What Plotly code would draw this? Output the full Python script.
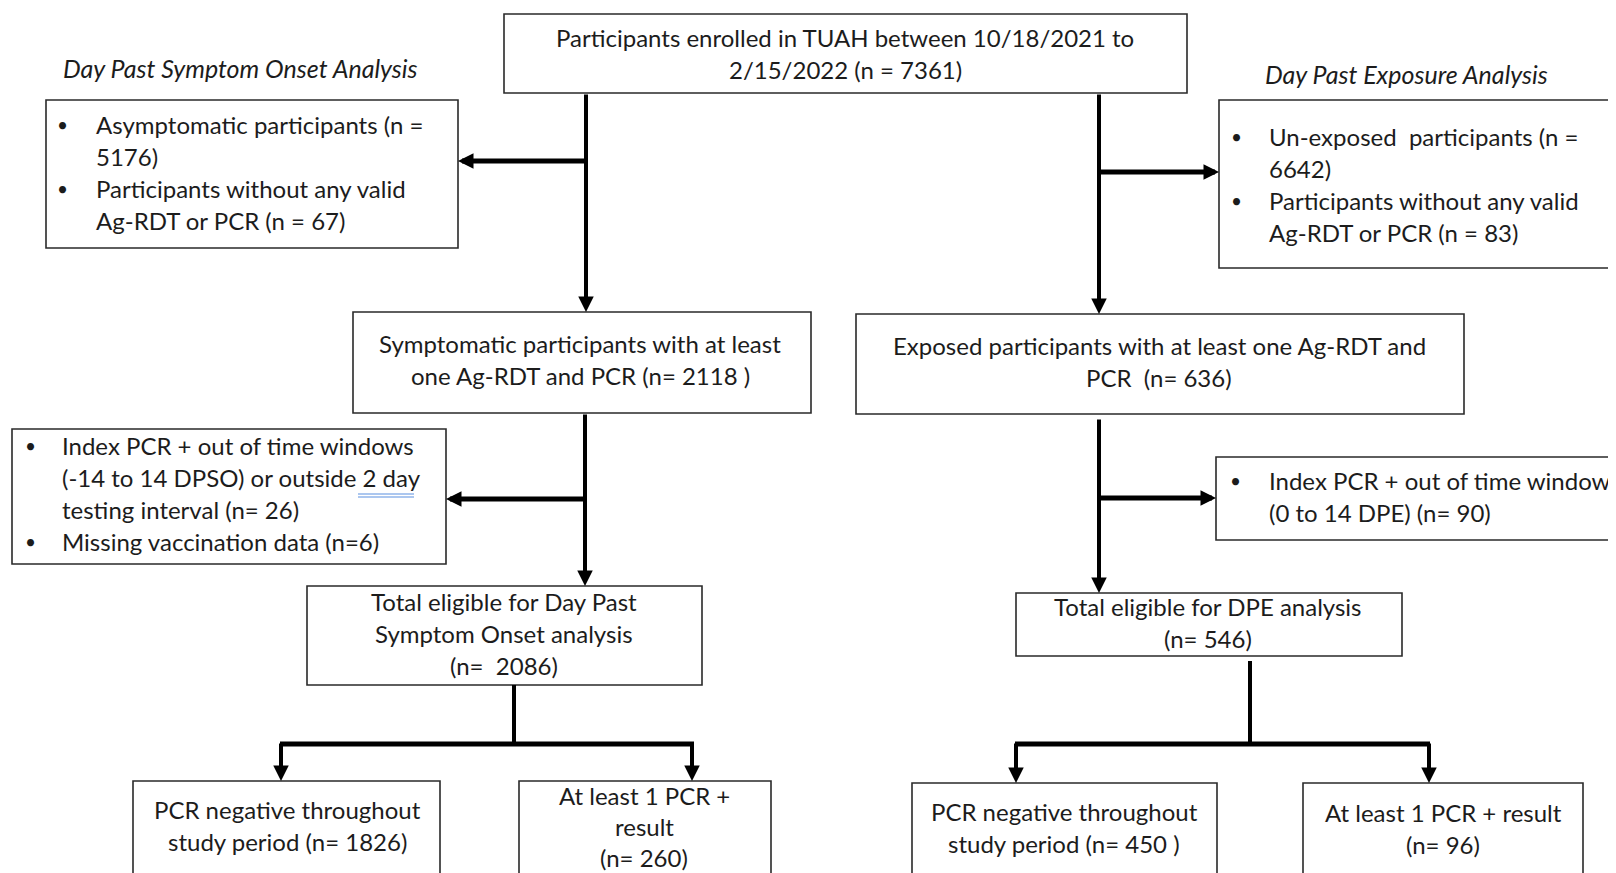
"""TUAH enrolment flow diagram (DPSO / DPE analyses) drawn with Plotly shapes."""

import plotly.graph_objects as go

W, H = 1616, 873
PAGE_PAD = 8  # default <body> margin of the written page
FONT = "Lato, 'Open Sans', sans-serif"
FONT_SIZE = 24
TITLE_SIZE = 25
INK = "#1c1c1c"
EDGE = "#2a2a2a"
LINE_STEP = 32
TEXT_NUDGE = -2  # lift text a little so it sits like the source

# ---- box texts (line breaks follow the source figure) ----
enrolled_lines = ["Participants enrolled in TUAH between 10/18/2021 to", "2/15/2022 (n = 7361)"]
dpso_title = "Day Past Symptom Onset Analysis"
dpe_title = "Day Past Exposure Analysis"
dpso_excl_1 = [["Asymptomatic participants (n =", "5176)"],
               ["Participants without any valid", "Ag-RDT or PCR (n = 67)"]]
dpe_excl_1 = [["Un-exposed\u00a0 participants (n =", "6642)"],
              ["Participants without any valid", "Ag-RDT or PCR (n = 83)"]]
symptomatic_lines = ["Symptomatic participants with at least", "one Ag-RDT and PCR (n= 2118 )"]
exposed_lines = ["Exposed participants with at least one Ag-RDT and", "PCR\u00a0 (n= 636)"]
dpso_excl_2 = [["Index PCR + out of time windows", "(-14 to 14 DPSO) or outside 2 day", "testing interval (n= 26)"],
               ["Missing vaccination data (n=6)"]]
dpe_excl_2 = [["Index PCR + out of time window", "(0 to 14 DPE) (n= 90)"]]
dpso_total = ["Total eligible for Day Past", "Symptom Onset analysis", "(n=\u00a0 2086)"]
dpe_total = ["Total eligible for DPE analysis", "(n= 546)"]
dpso_neg = ["PCR negative throughout", "study period (n= 1826)"]
dpso_pos = ["At least 1 PCR +", "result", "(n= 260)"]
dpe_neg = ["PCR negative throughout", "study period (n= 450 )"]
dpe_pos = ["At least 1 PCR + result", "(n= 96)"]

# ---- layout (pixel coordinates, y downwards) ----
BOXES = {
    "top": (504, 14, 1187, 93),
    "dpso_excl_1": (46, 100, 458, 248),
    "dpe_excl_1": (1219, 100, 1630, 268),
    "symptomatic": (353, 312, 811, 413),
    "exposed": (856, 314, 1464, 414),
    "dpso_excl_2": (12, 429, 446, 564),
    "dpe_excl_2": (1216, 457, 1630, 540),
    "dpso_total": (307, 586, 702, 685),
    "dpe_total": (1016, 593, 1402, 656),
    "dpso_neg": (133, 781, 440, 890),
    "dpso_pos": (519, 781, 771, 890),
    "dpe_neg": (912, 783, 1217, 890),
    "dpe_pos": (1303, 783, 1583, 890),
}

fig = go.Figure()


def text_block(lines, x, y0, anchor="center", italic=False, step=LINE_STEP):
    for i, s in enumerate(lines):
        size = TITLE_SIZE if italic else FONT_SIZE
        if italic:
            s = f"<i>{s}</i>"
        fig.add_annotation(
            x=x, y=y0 + i * step + TEXT_NUDGE, text=s, showarrow=False,
            xanchor=anchor, yanchor="middle",
            font=dict(family=FONT, size=size, color=INK),
        )


def bullet_block(items, x_bullet, x_text, y0, step=LINE_STEP):
    row = 0
    for item in items:
        fig.add_annotation(
            x=x_bullet, y=y0 + row * step + TEXT_NUDGE, text="•", showarrow=False,
            xanchor="center", yanchor="middle",
            font=dict(family=FONT, size=FONT_SIZE - 5, color=INK),
        )
        text_block(item, x_text, y0 + row * step, anchor="left", step=step)
        row += len(item)


def connector(x0, y0, x1, y1, width=4):
    fig.add_shape(type="line", x0=x0, y0=y0, x1=x1, y1=y1,
                  line=dict(color="black", width=width))


def arrow(x_tail, y_tail, x_tip, y_tip, width=4):
    fig.add_annotation(
        x=x_tip, y=y_tip, ax=x_tail, ay=y_tail, xref="x", yref="y",
        axref="x", ayref="y", text="", showarrow=True,
        arrowhead=2, arrowsize=3.1 / width, arrowwidth=width, arrowcolor="black",
        standoff=0,
    )


for (x0, y0, x1, y1) in BOXES.values():
    fig.add_shape(type="rect", x0=x0, y0=y0, x1=x1, y1=y1,
                  line=dict(color=EDGE, width=1.6), fillcolor="rgba(0,0,0,0)")

# texts
text_block(enrolled_lines, 845, 39)
text_block([dpso_title], 240, 70, italic=True)
text_block([dpe_title], 1406, 76, italic=True)
bullet_block(dpso_excl_1, 62, 94, 126)
bullet_block(dpe_excl_1, 1236, 1267, 138)
text_block(symptomatic_lines, 580, 345)
text_block(exposed_lines, 1159, 347)
bullet_block(dpso_excl_2, 30, 60, 447)
bullet_block(dpe_excl_2, 1235, 1267, 482)
text_block(dpso_total, 504, 603)
text_block(dpe_total, 1208, 608)
text_block(dpso_neg, 287, 811)
text_block(dpso_pos, 644, 797, step=31)
text_block(dpe_neg, 1064, 813)
text_block(dpe_pos, 1443, 814)

# spell-check squiggle under "2 day"
for yy in (494, 497):
    fig.add_shape(type="line", x0=358, x1=414, y0=yy, y1=yy,
                  line=dict(color="#5b8fe0", width=1.2))

# left branch (symptom onset)
arrow(586, 93, 586, 312)
arrow(588, 161, 458, 161, width=5)
arrow(585, 413, 585, 586)
arrow(587, 499, 446, 499, width=5)
connector(514, 685, 514, 744)
connector(280, 744, 694, 744, width=5)
arrow(281, 742, 281, 781)
arrow(692, 742, 692, 781)

# right branch (exposure)
arrow(1099, 93, 1099, 314)
arrow(1097, 172, 1219, 172, width=5)
arrow(1099, 418, 1099, 593)
arrow(1097, 498, 1216, 498, width=5)
connector(1250, 661, 1250, 744)
connector(1015, 744, 1430, 744, width=5)
arrow(1016, 742, 1016, 783)
arrow(1429, 742, 1429, 783)

fig.update_layout(
    width=W, height=H,
    margin=dict(l=0, r=0, t=0, b=0),
    paper_bgcolor="white", plot_bgcolor="white",
    xaxis=dict(range=[PAGE_PAD, W + PAGE_PAD], visible=False, fixedrange=True),
    yaxis=dict(range=[H + PAGE_PAD, PAGE_PAD], visible=False, fixedrange=True),
    showlegend=False,
)

fig.write_html("out.html")
